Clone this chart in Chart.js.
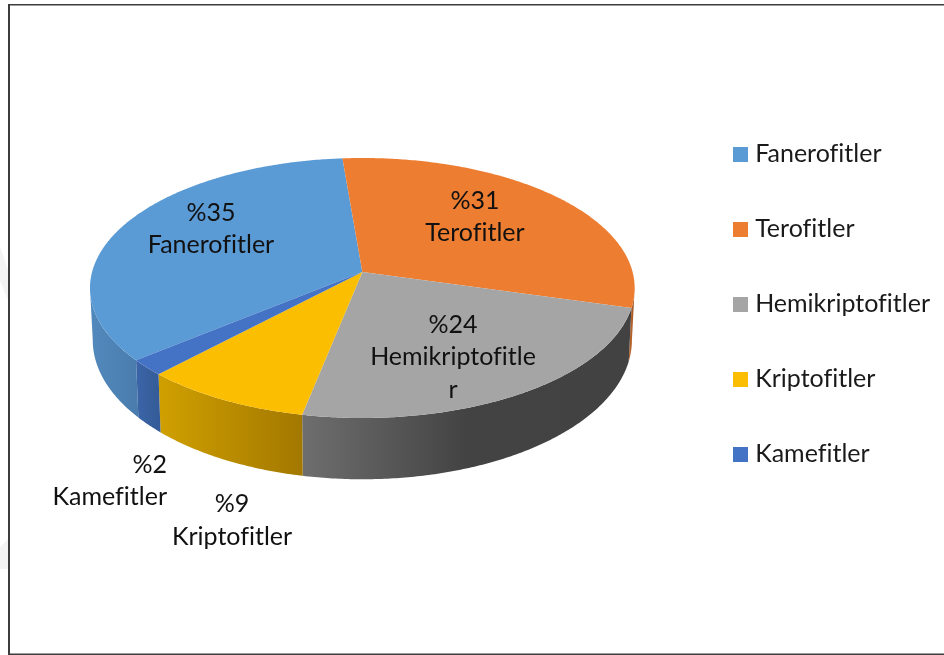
<!DOCTYPE html>
<html lang="tr">
<head>
<meta charset="utf-8">
<script src="https://cdn.jsdelivr.net/npm/chart.js@4/dist/chart.umd.min.js"></script>
<style>
html,body{margin:0;padding:0;background:#fff;overflow:hidden}
#wrap{position:relative;width:944px;height:655px}
canvas{position:absolute;left:0;top:0}
.smudge{position:absolute;left:0;width:9px;background:#f3f3f3}
</style>
</head>
<body>
<div id="wrap">
<div class="smudge" style="top:247px;height:56px;clip-path:polygon(0 0,100% 45%,100% 100%,0 60%)"></div>
<div class="smudge" style="top:538px;height:31px;clip-path:polygon(100% 0,100% 100%,0 100%,0 30%)"></div>
<canvas id="c" width="944" height="655"></canvas>
</div>
<script>
const categories = ['Fanerofitler', 'Terofitler', 'Hemikriptofitler', 'Kriptofitler', 'Kamefitler'];
const values = [35, 31, 24, 9, 2];
const topColors = ['#5b9bd5', '#ed7d31', '#a5a5a5', '#fcbe00', '#4472c4'];
const wallStops = [
  [[0, '#5289bc'], [1, '#4a7dae']],
  [[0, '#b5622a'], [1, '#9a5020']],
  [[0, '#6e6e6e'], [0.5, '#434343'], [1, '#424242']],
  [[0, '#d0a000'], [1, '#a37800']],
  [[0, '#3a65a8'], [1, '#355c98']]
];
// text blocks: [x, y, align, text]
const hemi = categories[2];
const labelLines = [
  [211, 213, 'center', '%' + values[0]],
  [211, 245, 'center', categories[0]],
  [475, 201, 'center', '%' + values[1]],
  [475, 233, 'center', categories[1]],
  [453, 325, 'center', '%' + values[2]],
  [453, 357, 'center', hemi.slice(0, -1)],
  [453, 390, 'center', hemi.slice(-1)],
  [167, 465, 'right', '%' + values[4]],
  [167, 497, 'right', categories[4]],
  [232, 504, 'center', '%' + values[3]],
  [232, 537, 'center', categories[3]]
];
const FONT_SIZE = 25;
const FONT_FAMILY = 'Lato, Carlito, sans-serif';

// Perspective of the tilted disc, as ratios of the arc radius Chart.js computed
const TILT = 0.123;
const topRim = {dy: -32, a: 0.99, b: 0.469};
const lowRim = {dy: 19, a: 0.98, b: 0.502};
function project(el, rim, t) {
  const w = 1 - TILT * Math.sin(t);
  return [el.x + el.outerRadius * rim.a * Math.cos(t) / w,
          el.y + rim.dy + el.outerRadius * rim.b * Math.sin(t) / w];
}
function rimTrace(ctx, el, rim, a0, a1, first) {
  const n = Math.max(2, Math.ceil(Math.abs(a1 - a0) / 0.01));
  for (let i = 0; i <= n; i++) {
    const p = project(el, rim, a0 + (a1 - a0) * i / n);
    if (i === 0 && first) ctx.moveTo(p[0], p[1]); else ctx.lineTo(p[0], p[1]);
  }
}
// The wall runs between the two horizontal extremes of the projected rim
const FRONT0 = Math.asin(TILT), FRONT1 = Math.PI - Math.asin(TILT);
function frontRange(el) {
  const tw = 2 * Math.PI;
  let s = el.startAngle, e = el.endAngle;
  while (s >= FRONT1) { s -= tw; e -= tw; }
  while (e <= FRONT0) { s += tw; e += tw; }
  return [Math.max(s, FRONT0), Math.min(e, FRONT1)];
}
const disc3d = {
  id: 'disc3d',
  beforeDatasetsDraw(chart) {
    const ctx = chart.ctx;
    const arcs = chart.getDatasetMeta(0).data;
    ctx.save();
    // side wall
    arcs.forEach((el, i) => {
      const [s, e] = frontRange(el);
      if (e <= s) return;
      const xs = [];
      for (let j = 0; j <= 40; j++) xs.push(project(el, topRim, s + (e - s) * j / 40)[0]);
      const g = ctx.createLinearGradient(Math.min(...xs), 0, Math.max(...xs), 0);
      wallStops[i].forEach(st => g.addColorStop(st[0], st[1]));
      ctx.beginPath();
      rimTrace(ctx, el, topRim, s, e, true);
      rimTrace(ctx, el, lowRim, e, s, false);
      ctx.closePath();
      ctx.fillStyle = g;
      ctx.fill();
    });
    // top face
    arcs.forEach(el => {
      ctx.beginPath();
      ctx.moveTo(el.x, el.y + topRim.dy);
      rimTrace(ctx, el, topRim, el.startAngle, el.endAngle, false);
      ctx.closePath();
      ctx.fillStyle = el.options.backgroundColor;
      ctx.fill();
    });
    ctx.restore();
    return false;
  },
  afterDraw(chart) {
    const ctx = chart.ctx;
    ctx.save();
    ctx.fillStyle = '#111';
    ctx.textBaseline = 'middle';
    ctx.font = FONT_SIZE + 'px ' + FONT_FAMILY;
    labelLines.forEach(l => {
      ctx.textAlign = l[2];
      ctx.fillText(l[3], l[0], l[1]);
    });
    // frame
    ctx.fillStyle = '#3c3c3c';
    ctx.fillRect(8, 4, 936, 1.5);
    ctx.fillRect(8, 4, 2, 651);
    ctx.fillRect(8, 653.5, 936, 1.5);
    ctx.restore();
  }
};
function swatch(color) {
  const s = document.createElement('canvas');
  s.width = 15; s.height = 15;
  const x = s.getContext('2d');
  x.fillStyle = color;
  x.fillRect(0, 0, 15, 15);
  return s;
}
const baseLabels = Chart.overrides.doughnut.plugins.legend.labels.generateLabels;
new Chart(document.getElementById('c'), {
  type: 'pie',
  data: {labels: categories, datasets: [{data: values, backgroundColor: topColors, borderWidth: 0}]},
  plugins: [disc3d],
  options: {
    responsive: false,
    animation: false,
    rotation: 230.5,
    layout: {padding: {left: 36, right: 4, top: 31, bottom: 78}},
    plugins: {
      tooltip: {enabled: false},
      legend: {
        position: 'right',
        labels: {
          usePointStyle: true,
          pointStyleWidth: 4,
          padding: 50,
          color: '#1a1a1a',
          font: {family: FONT_FAMILY, size: FONT_SIZE},
          generateLabels: c => baseLabels(c).map(it => ({...it, pointStyle: swatch(it.fillStyle)}))
        }
      }
    }
  }
});
</script>
</body>
</html>
